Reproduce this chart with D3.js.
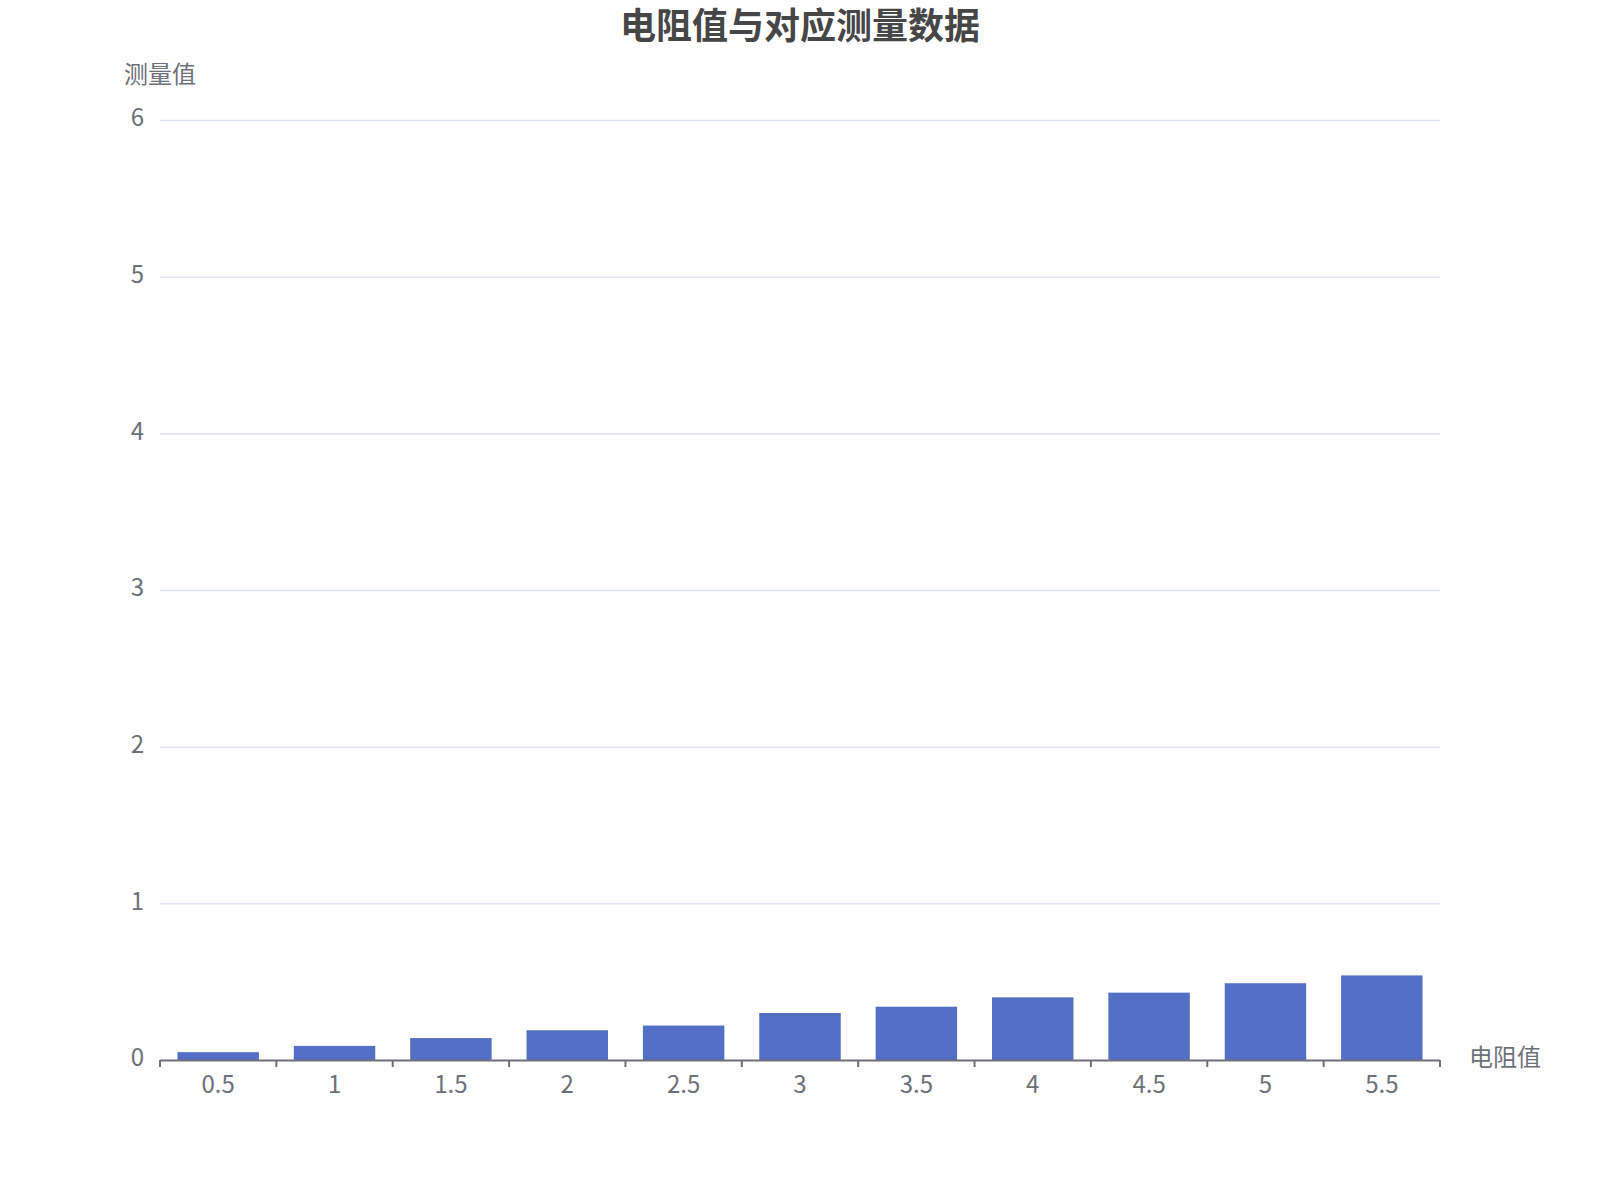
<!DOCTYPE html>
<html lang="zh">
<head>
    <meta charset="utf-8">
    <title>电阻值与对应测量数据</title>
	<script src="https://d3js.org/d3.v7.min.js"></script>
	<style>
		body { margin:0; background:#fff; }
		text { font-family:"Noto Sans CJK SC", "Noto Sans", sans-serif; }
		.grid line { stroke:#E0E6F1; stroke-width:1.5px; }
	</style>
</head>
<body>
	<svg height="1200" width="1600"></svg>
<script>
	// data
	var resistance = ["0.5","1","1.5","2","2.5","3","3.5","4","4.5","5","5.5"];
	var measured = [0.05,0.09,0.14,0.19,0.22,0.30,0.34,0.40,0.43,0.49,0.54];
	var yTicks = [0,1,2,3,4,5,6];

	var svg = d3.select('svg');
	var gLeft = 160, gRight = 1440, gTop = 120, gBottom = 1060;

	var x = d3.scaleBand().domain(resistance).range([gLeft, gRight]).paddingInner(0.3).paddingOuter(0.15);
	var xb = d3.scaleBand().domain(resistance).range([gLeft, gRight]);
	var y = d3.scaleLinear().domain([0, 6]).range([gBottom, gTop]);

	// grid lines
	svg.append("g").attr("class","grid")
		.selectAll("line").data(yTicks.filter(function(d){ return d > 0; }))
		.enter().append("line")
		.attr("x1", gLeft).attr("x2", gRight)
		.attr("y1", function(d){ return y(d) + 0.5; })
		.attr("y2", function(d){ return y(d) + 0.5; });

	// y labels
	svg.append("g").selectAll("text").data(yTicks).enter().append("text")
		.attr("x", gLeft - 16)
		.attr("y", function(d){ return y(d) - 2; })
		.attr("dy", "0.35em")
		.attr("text-anchor","end")
		.style("font-size","24px")
		.style("fill","#6E7079")
		.text(function(d){ return d; });

	// bars
	svg.append("g").selectAll("rect").data(measured).enter().append("rect")
		.attr("x", function(d,i){ return x(resistance[i]); })
		.attr("width", x.bandwidth())
		.attr("y", function(d){ return y(d); })
		.attr("height", function(d){ return gBottom - y(d); })
		.style("fill","#5470c6");

	// x axis
	var xAxis = svg.append("g").attr("transform","translate(0," + gBottom + ")");
	xAxis.append("line").attr("x1", gLeft).attr("x2", gRight)
		.attr("y1", 0.5).attr("y2", 0.5)
		.style("stroke","#6E7079").style("stroke-width","2px");
	var tickPos = resistance.map(function(d){ return xb(d); }).concat([gRight]);
	xAxis.selectAll(".tick").data(tickPos).enter().append("line")
		.attr("x1", function(d){ return d; }).attr("x2", function(d){ return d; })
		.attr("y1", 0).attr("y2", 7)
		.style("stroke","#6E7079").style("stroke-width","2px");
	xAxis.selectAll("text").data(resistance).enter().append("text")
		.attr("x", function(d){ return xb(d) + xb.bandwidth()/2; })
		.attr("y", 25)
		.attr("dy","0.35em")
		.attr("text-anchor","middle")
		.style("font-size","24px")
		.style("fill","#6E7079")
		.text(function(d){ return d; });

	// axis names
	svg.append("text").attr("x", gLeft).attr("y", 75).attr("dy","0.35em")
		.attr("text-anchor","middle")
		.style("font-size","24px").style("fill","#6E7079")
		.text("测量值");
	svg.append("text").attr("x", gRight + 29).attr("y", gBottom - 2).attr("dy","0.35em")
		.style("font-size","24px").style("fill","#6E7079")
		.text("电阻值");

	// title
	svg.append("text").attr("x", 800).attr("y", 26).attr("dy","0.35em")
		.attr("text-anchor","middle")
		.style("font-size","36px").style("font-weight","bold").style("fill","#464646")
		.text("电阻值与对应测量数据");
</script>
  </body>
</html>
